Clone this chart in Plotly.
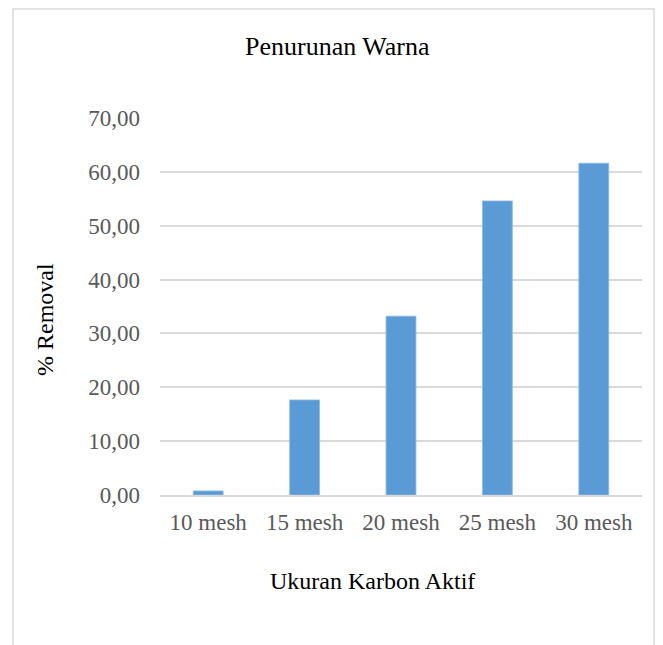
import plotly.graph_objects as go

categories = ["10 mesh", "15 mesh", "20 mesh", "25 mesh", "30 mesh"]
removal = [0.75, 17.65, 33.2, 54.6, 61.6]
y_ticks = [0, 10, 20, 30, 40, 50, 60, 70]
y_tick_labels = ["0,00", "10,00", "20,00", "30,00", "40,00", "50,00", "60,00", "70,00"]

W, H = 663, 645
L, R, T, B = 160, 642, 118, 495

def px(x):
    return (x - L) / (R - L)

def py(y):
    return (B - y) / (B - T)

FONT = "Liberation Serif, Times New Roman, serif"

fig = go.Figure(go.Bar(
    x=categories, y=removal,
    marker=dict(color="#5B9BD5", line=dict(color="#8DB9E4", width=0.8)),
    width=0.31,
))

fig.update_layout(
    width=W, height=H,
    margin=dict(l=L, r=W - R, t=T, b=H - B),
    paper_bgcolor="white", plot_bgcolor="white",
    showlegend=False,
    font=dict(family=FONT, size=23, color="#595959"),
    xaxis=dict(showgrid=False, showline=True, linecolor="#D9D9D9", linewidth=1.5,
               ticks="", ticklabelstandoff=6,
               tickfont=dict(size=23, color="#595959"), fixedrange=True),
    yaxis=dict(range=[0, 70], tickvals=y_ticks, ticktext=y_tick_labels,
               showgrid=True, gridcolor="#D9D9D9", gridwidth=1.5, zeroline=False,
               showline=False, ticks="", ticklabelstandoff=19,
               tickfont=dict(size=23, color="#595959")),
    shapes=[dict(type="rect", xref="paper", yref="paper",
                 x0=px(13), x1=px(654), y0=py(680), y1=py(9),
                 line=dict(color="#D9D9D9", width=1.5), layer="below")],
    annotations=[
        dict(text="Penurunan Warna", xref="paper", yref="paper", x=px(337.5), y=py(46),
             showarrow=False, xanchor="center", yanchor="middle",
             font=dict(family=FONT, size=26, color="black")),
        dict(text="Ukuran Karbon Aktif", xref="paper", yref="paper", x=px(372), y=py(581),
             showarrow=False, xanchor="center", yanchor="middle",
             font=dict(family=FONT, size=24, color="black")),
        dict(text="% Removal", xref="paper", yref="paper", x=px(45), y=py(320),
             showarrow=False, xanchor="center", yanchor="middle", textangle=-90,
             font=dict(family=FONT, size=24, color="black")),
    ],
)

fig.write_html("out.html", config={"displayModeBar": False},
               post_script="document.body.style.margin='0';")
